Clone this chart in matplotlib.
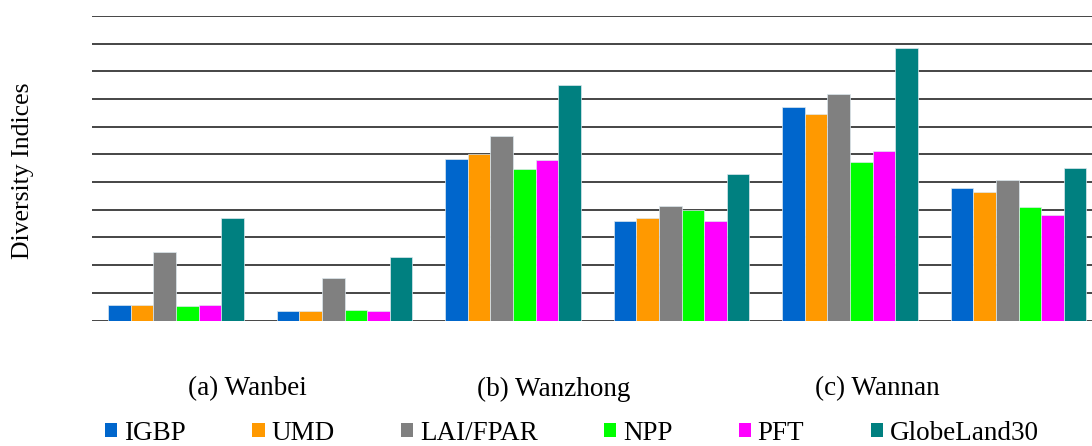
import matplotlib
matplotlib.use('Agg')
import matplotlib.pyplot as plt
from matplotlib.patches import Patch
import numpy as np

plt.rcParams['font.family'] = ['Liberation Serif', 'DejaVu Serif']

#%% data (one gridline = 1 unit)
products = ['IGBP', 'UMD', 'LAI/FPAR', 'NPP', 'PFT', 'GlobeLand30']
colors = ['#0066CC', '#FF9900', '#808080', '#00FF00', '#FF00FF', '#008080']
n_groups = 6  # two indices for each region

igbp = [0.56, 0.34, 5.82, 3.61, 7.72, 4.79]
umd = [0.56, 0.34, 6.00, 3.70, 7.45, 4.63]
lai_fpar = [2.46, 1.53, 6.65, 4.12, 8.18, 5.08]
npp = [0.53, 0.38, 5.49, 3.98, 5.72, 4.11]
pft = [0.56, 0.34, 5.80, 3.61, 6.12, 3.81]
globeland30 = [3.72, 2.31, 8.51, 5.30, 9.86, 5.50]
series = [igbp, umd, lai_fpar, npp, pft, globeland30]

regions = ['(a) Wanbei', '(b) Wanzhong', '(c) Wannan']

#%% plot
W, H = 1092, 446
fig = plt.figure(figsize=(W / 100, H / 100), dpi=100)
ax = fig.add_axes([91.75 / W, 1 - 320.5 / H, 1011 / W, 304.5 / H])

x = np.arange(n_groups)
bw = 0.1345
for i, (vals, c) in enumerate(zip(series, colors)):
    ax.bar(x + (i - 2.5) * bw, vals, bw, color=c, edgecolor='#dde8ee',
           linewidth=0.5, zorder=3, label=products[i])

ax.set_xlim(-0.5, n_groups - 0.5)
ax.set_ylim(0, 11)
ax.set_yticks(np.arange(0, 12))
ax.yaxis.grid(True, color='#262626', linewidth=1.2, zorder=0)
ax.set_yticklabels([])
ax.set_xticks([])
ax.tick_params(length=0)
for s in ax.spines.values():
    s.set_visible(False)

# region labels under the pairs of groups
label_px = [247, 554, 877]
for txt, px in zip(regions, label_px):
    fig.text(px / W, 1 - 389 / H, txt, ha='center', va='center', fontsize=19.5)

fig.text(23 / W, 1 - 171 / H, 'Diversity Indices', rotation=90,
         ha='center', va='center', fontsize=18.5)

handles = [Patch(facecolor=c, edgecolor='none') for c in colors]
fig.legend(handles, products, loc='center', bbox_to_anchor=(572 / W, 1 - 433 / H),
           ncol=6, frameon=False, fontsize=19.5, handlelength=0.45,
           handleheight=0.45, handletextpad=0.25, columnspacing=2.45,
           borderpad=0, borderaxespad=0)

fig.savefig('out.png', dpi=100)
